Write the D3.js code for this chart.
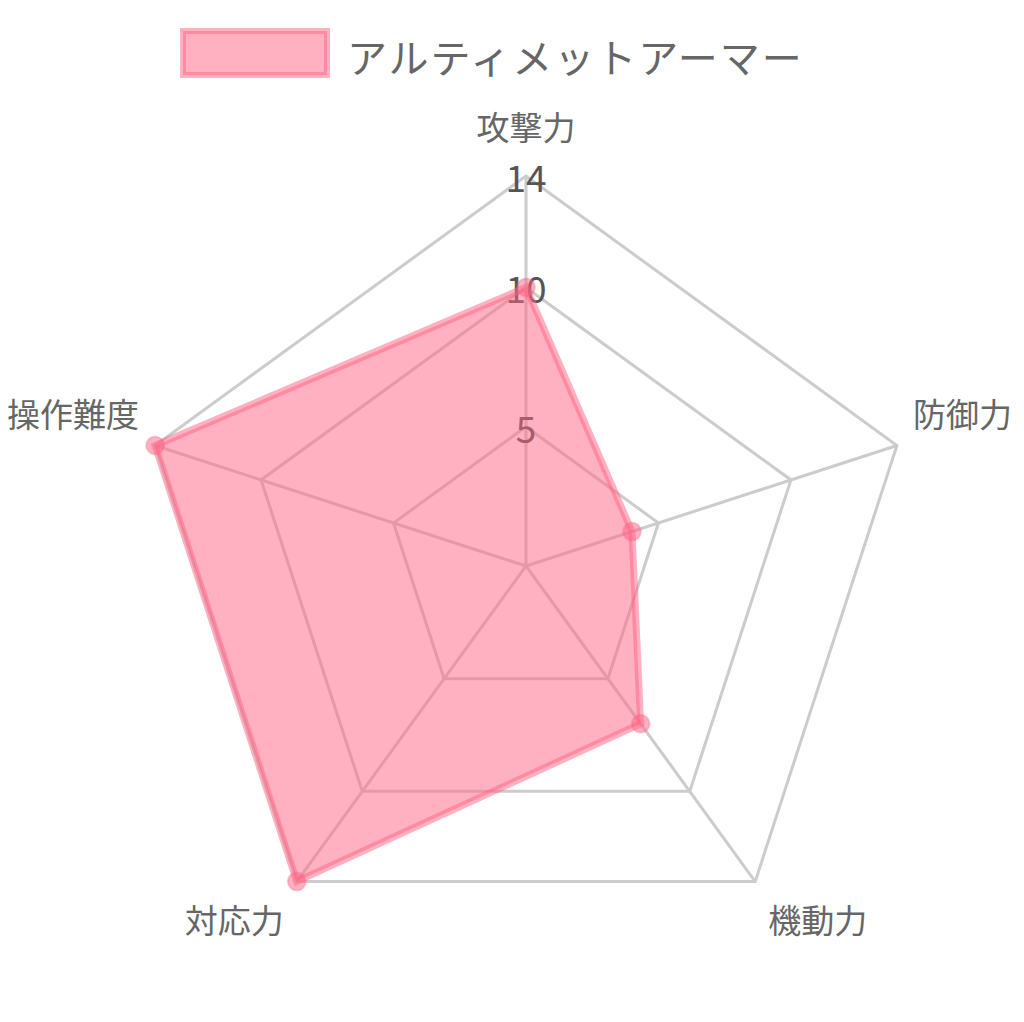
<!DOCTYPE html>
<html>
<head>
<meta charset="utf-8">
<script src="https://cdn.jsdelivr.net/npm/d3@7"></script>
<style>
  body { margin: 0; background: #fff; }
  text { font-family: "Noto Sans CJK JP", "Noto Sans", sans-serif; fill: #666; }
</style>
</head>
<body>
<script>
// chart data
var seriesName = "アルティメットアーマー";
var axes = ["攻撃力", "防御力", "機動力", "対応力", "操作難度"];
var values = [10, 4, 7, 14, 14];
var ticks = [5, 10, 14];
var maxValue = 14;

var width = 1024, height = 1022;
var cx = 526, cy = 566, R = 390;

var svg = d3.select("body").append("svg")
  .attr("width", width)
  .attr("height", height);

var rScale = d3.scaleLinear().domain([0, maxValue]).range([0, R]);
var angle = d3.scaleLinear().domain([0, axes.length]).range([0, 2 * Math.PI]);

function pt(i, v) {
  var a = angle(i);
  return [cx + Math.sin(a) * rScale(v), cy - Math.cos(a) * rScale(v)];
}

var g = svg.append("g");

// grid pentagons
ticks.forEach(function(t) {
  var ring = axes.map(function(d, i) { return pt(i, t); });
  g.append("path")
    .attr("d", d3.line()(ring) + "Z")
    .attr("fill", "none")
    .attr("stroke", "#cccccc")
    .attr("stroke-width", 3);
});

// spokes
axes.forEach(function(d, i) {
  var p = pt(i, maxValue);
  g.append("line")
    .attr("x1", cx).attr("y1", cy)
    .attr("x2", p[0]).attr("y2", p[1])
    .attr("stroke", "#cccccc")
    .attr("stroke-width", 3);
});

// tick labels on top spoke
g.selectAll(".tick").data(ticks).enter().append("text")
  .attr("class", "tick")
  .attr("x", cx)
  .attr("y", function(d) { return cy - rScale(d); })
  .attr("text-anchor", "middle")
  .attr("dominant-baseline", "central")
  .style("font-size", "37px")
  .style("fill", "#555")
  .text(function(d) { return d; });

// axis labels
var labelPos = [
  {anchor: "middle", dx: 0, dy: -50},
  {anchor: "start", dx: 16, dy: -32},
  {anchor: "start", dx: 13, dy: 37},
  {anchor: "end", dx: -13, dy: 37},
  {anchor: "end", dx: -16, dy: -32}
];
axes.forEach(function(d, i) {
  var p = pt(i, maxValue);
  g.append("text")
    .attr("x", p[0] + labelPos[i].dx)
    .attr("y", p[1] + labelPos[i].dy)
    .attr("text-anchor", labelPos[i].anchor)
    .attr("dominant-baseline", "central")
    .style("font-size", "33px")
    .text(d);
});

// dataset
var pts = values.map(function(v, i) { return pt(i, v); });
g.append("path")
  .attr("d", d3.line()(pts) + "Z")
  .attr("fill", "rgba(255,99,132,0.5)")
  .attr("stroke", "rgba(255,99,132,0.5)")
  .attr("stroke-width", 7)
  .attr("stroke-linejoin", "miter");

g.selectAll(".pt").data(pts).enter().append("circle")
  .attr("class", "pt")
  .attr("cx", function(d) { return d[0]; })
  .attr("cy", function(d) { return d[1]; })
  .attr("r", 9)
  .attr("fill", "rgba(255,99,132,0.5)")
  .attr("stroke", "rgba(255,99,132,0.3)")
  .attr("stroke-width", 2);

// legend
var legend = svg.append("g");
legend.append("rect")
  .attr("x", 183).attr("y", 31)
  .attr("width", 144).attr("height", 44)
  .attr("fill", "rgba(255,99,132,0.5)")
  .attr("stroke", "rgba(255,99,132,0.5)")
  .attr("stroke-width", 6);
legend.append("text")
  .attr("x", 347).attr("y", 56)
  .attr("dominant-baseline", "central")
  .style("font-size", "40px")
  .style("letter-spacing", "2px")
  .text(seriesName);
</script>
</body>
</html>
